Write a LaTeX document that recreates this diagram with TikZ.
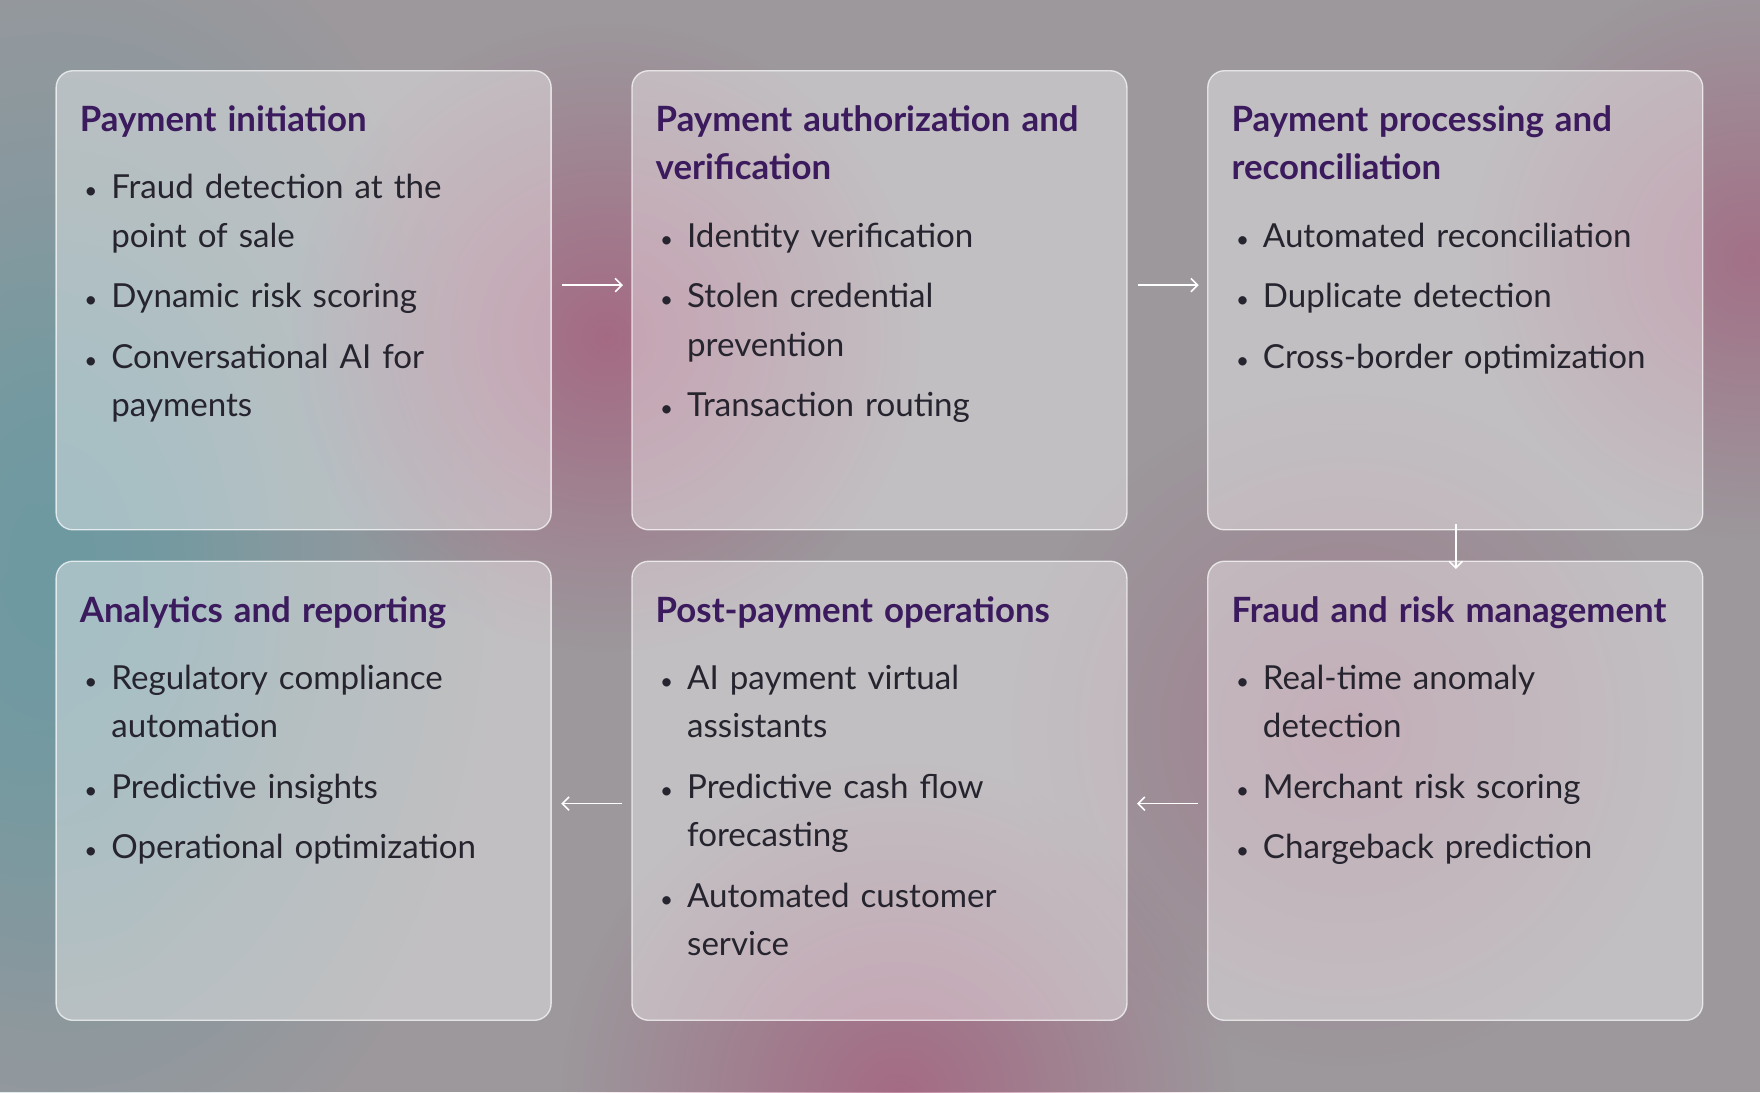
\documentclass[tikz,border=0pt]{standalone}
\usepackage{fontspec}
\setmainfont{Lato}
\newfontfamily\titlefont{Lato Bold}
\usetikzlibrary{arrows.meta,fadings}
\definecolor{ttl}{HTML}{3B1A5E}
\definecolor{txt}{HTML}{26242E}
\definecolor{bg}{HTML}{9C989C}
\definecolor{tealc}{HTML}{6E9AA2}
\definecolor{pinkc}{HTML}{A8577A}
\tikzfading[name=soft, inner color=transparent!0, outer color=transparent!100]
\newcommand{\bitem}[1]{\hangindent=28pt\hangafter=1\noindent\makebox[28pt][l]{\hspace*{4pt}{\fontsize{20}{20}\selectfont•}}#1\par}
\newcommand{\card}[4]{%
  \fill[white,opacity=0.38,rounded corners=15pt] (#1,#2) rectangle ++(441,409);
  \draw[white,opacity=0.7,line width=1.2pt,rounded corners=15pt] (#1,#2) rectangle ++(441,409);
  \node[anchor=north west,inner sep=0pt,text width=425pt,align=left,font=\fontsize{29.5}{43}\selectfont,text=txt] at (#1+21,#2+31)
   {\parskip=11pt {\titlefont\fontsize{31}{43}\selectfont\color{ttl}#3\par}\vspace{6pt}#4};}
\begin{document}
\begin{tikzpicture}[x=1pt,y=-1pt,arr/.style={white,line width=1.4pt,-{Straight Barb[length=6pt,width=12pt]}}]
\useasboundingbox (0,0) rectangle (1568,973);
\fill[bg] (0,0) rectangle (1568,973);
\fill[tealc,path fading=soft] (-350,-100) rectangle (450,1100);
\fill[tealc,opacity=0.7,path fading=soft] (-200,200) rectangle (250,900);
\fill[pinkc,opacity=0.7,path fading=soft] (540,300) circle (280);
\fill[pinkc,opacity=0.7,path fading=soft] (800,980) circle (300);
\fill[pinkc,opacity=0.6,path fading=soft] (1560,230) circle (250);
\fill[pinkc,opacity=0.4,path fading=soft] (1200,650) circle (300);
\card{50}{63}{Payment initiation}{\bitem{Fraud detection at the\newline point of sale}\bitem{Dynamic risk scoring}\bitem{Conversational AI for\newline payments}}
\card{563}{63}{Payment authorization and\newline verification}{\bitem{Identity verification}\bitem{Stolen credential\newline prevention}\bitem{Transaction routing}}
\card{1076}{63}{Payment processing and\newline reconciliation}{\bitem{Automated reconciliation}\bitem{Duplicate detection}\bitem{Cross-border optimization}}
\card{50}{500}{Analytics and reporting}{\bitem{Regulatory compliance\newline automation}\bitem{Predictive insights}\bitem{Operational optimization}}
\card{563}{500}{Post-payment operations}{\bitem{AI payment virtual\newline assistants}\bitem{Predictive cash flow\newline forecasting}\bitem{Automated customer\newline service}}
\card{1076}{500}{Fraud and risk management}{\bitem{Real-time anomaly\newline detection}\bitem{Merchant risk scoring}\bitem{Chargeback prediction}}
\coordinate (a1) at (501,254); \coordinate (a2) at (555,254);
\coordinate (b1) at (1014,254); \coordinate (b2) at (1068,254);
\coordinate (c1) at (1297,467); \coordinate (c2) at (1297,507);
\coordinate (d1) at (1067,716); \coordinate (d2) at (1013,716);
\coordinate (e1) at (554,716); \coordinate (e2) at (500,716);
\draw[arr] (a1)--(a2); \draw[arr] (b1)--(b2); \draw[arr] (c1)--(c2);
\draw[arr] (d1)--(d2); \draw[arr] (e1)--(e2);
\end{tikzpicture}
\end{document}
